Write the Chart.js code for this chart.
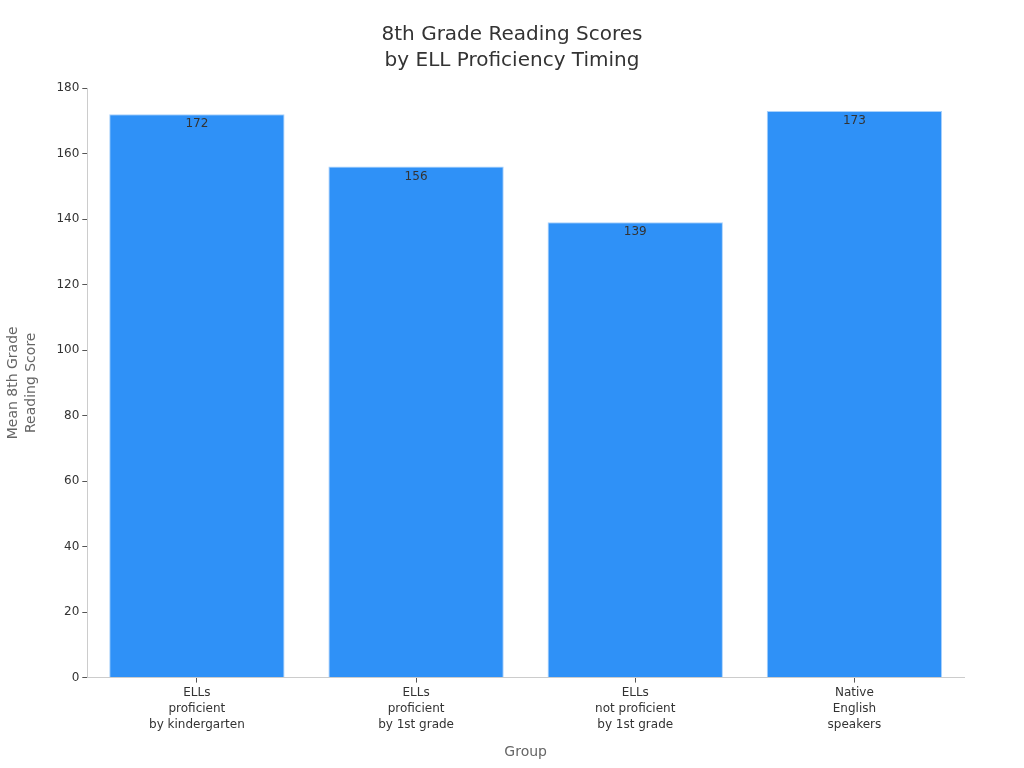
<!DOCTYPE html>
<html>
<head>
<meta charset="utf-8">
<script src="https://cdn.jsdelivr.net/npm/chart.js@4/dist/chart.umd.min.js"></script>
<style>
  html, body { margin: 0; padding: 0; background: #fff; }
  #wrap { width: 1024px; height: 768px; }
</style>
</head>
<body>
<div id="wrap"><canvas id="myChart" width="1024" height="768"></canvas></div>
<script>
var groups = [
    ['ELLs', 'proficient', 'by kindergarten'],
    ['ELLs', 'proficient', 'by 1st grade'],
    ['ELLs', 'not proficient', 'by 1st grade'],
    ['Native', 'English', 'speakers']
];
var scores = [172, 156, 139, 173];

var textColor = '#333333';
var font = 'DejaVu Sans';

// draws the value just under the top of each bar
var barValues = {
    id: 'barValues',
    afterDatasetsDraw: function(chart) {
        var ctx = chart.ctx;
        var meta = chart.getDatasetMeta(0);
        ctx.save();
        ctx.font = '12px "' + font + '"';
        ctx.fillStyle = textColor;
        ctx.textAlign = 'center';
        ctx.textBaseline = 'middle';
        meta.data.forEach(function(bar, i) {
            ctx.fillText(String(scores[i]), bar.x, bar.y + 10);
        });
        ctx.restore();
    }
};

var ctx = document.getElementById('myChart').getContext('2d');

new Chart(ctx, {
    type: 'bar',
    plugins: [barValues],
    data: {
        labels: groups,
        datasets: [{
            data: scores,
            backgroundColor: '#2f91f7',
            borderColor: '#a9d1fb',
            borderWidth: 1,
            barPercentage: 0.8,
            categoryPercentage: 1.0
        }]
    },
    options: {
        responsive: false,
        animation: false,
        layout: {
            padding: { left: 0, right: 0, top: 8, bottom: 3 }
        },
        plugins: {
            legend: { display: false },
            tooltip: { enabled: false },
            title: {
                display: true,
                text: ['8th Grade Reading Scores', 'by ELL Proficiency Timing'],
                color: textColor,
                font: { family: font, size: 20, weight: 'normal', lineHeight: 1.3 },
                padding: { top: 14, bottom: 14 }
            }
        },
        scales: {
            x: {
                grid: { display: true, offset: false, drawOnChartArea: false, drawTicks: true, tickLength: 5, tickColor: '#555555' },
                border: { color: '#cccccc' },
                ticks: {
                    color: textColor,
                    font: { family: font, size: 12, lineHeight: 1.35 },
                    maxRotation: 0,
                    padding: 2
                },
                title: {
                    display: true,
                    text: 'Group',
                    color: '#666666',
                    font: { family: font, size: 14 },
                    padding: { top: 9 }
                }
            },
            y: {
                min: 0,
                max: 180,
                grid: { display: true, drawOnChartArea: false, drawTicks: true, tickLength: 5, tickColor: '#555555' },
                border: { color: '#cccccc' },
                ticks: {
                    stepSize: 20,
                    color: textColor,
                    font: { family: font, size: 12 },
                    padding: 3
                },
                title: {
                    display: true,
                    text: ['Mean 8th Grade', 'Reading Score'],
                    color: '#666666',
                    font: { family: font, size: 14, lineHeight: 1.3 },
                    padding: { bottom: 13 }
                }
            },
            // empty right-hand gutter so the title stays centred on the page
            gutter: {
                type: 'linear',
                position: 'right',
                display: true,
                grid: { display: false },
                border: { display: false },
                ticks: { display: false },
                afterFit: function(scale) { scale.width = 60; }
            }
        }
    }
});
</script>
</body>
</html>
